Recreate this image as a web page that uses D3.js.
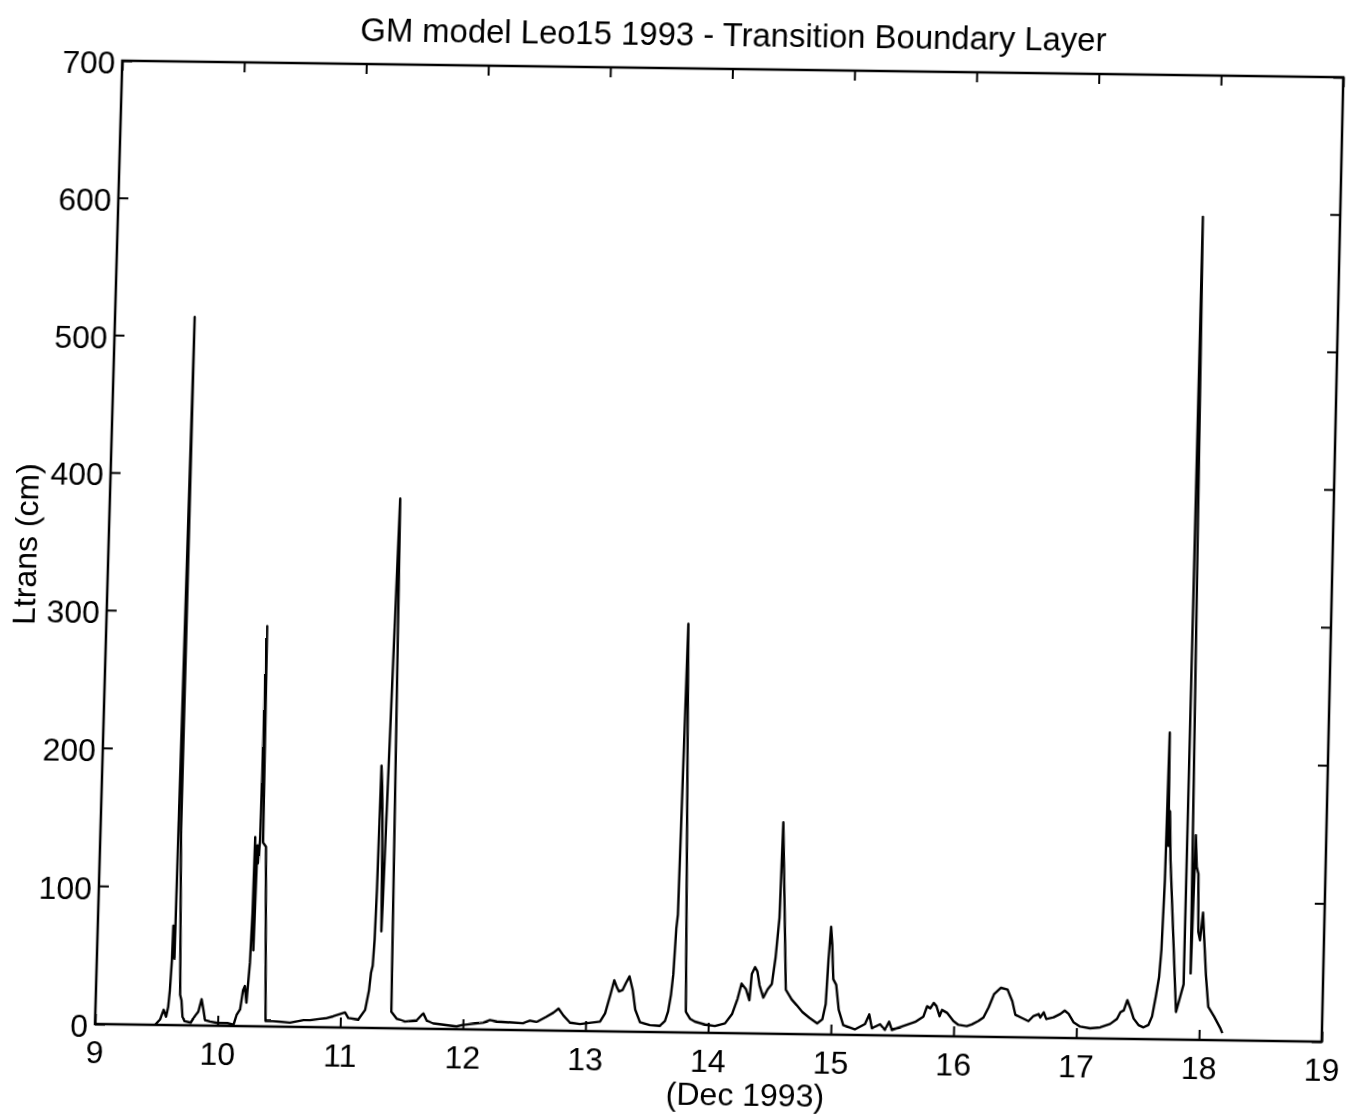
<!DOCTYPE html>
<html>
<head>
<meta charset="utf-8">
<script src="https://cdn.jsdelivr.net/npm/d3@7"></script>
<style>
  html, body { margin: 0; padding: 0; background: #fff; }
  #chart { position: absolute; left: 0; top: 0; display: block; transform-origin: 0 0; }
  text { font-family: "Liberation Sans", Arial, Helvetica, sans-serif; fill: #000; }
</style>
</head>
<body>
<svg id="chart" width="1359" height="1118"></svg>
<script>
// Time axis (day of December 1993)
const days = [
  9.49, 9.53, 9.557, 9.578, 9.593, 9.603, 9.613, 9.617, 9.628, 9.633,
  9.652, 9.658, 9.688, 9.70, 9.712, 9.73, 9.78, 9.815, 9.84, 9.864,
  9.882, 9.896, 9.937, 10.0, 10.08, 10.13, 10.153, 10.18, 10.20, 10.214,
  10.23, 10.25, 10.26, 10.265, 10.275, 10.285, 10.295, 10.305, 10.315, 10.33,
  10.355, 10.39, 10.45, 10.59, 10.70, 10.752, 10.88, 10.94, 11.037, 11.064,
  11.146, 11.20, 11.227, 11.24, 11.252, 11.262, 11.27, 11.28, 11.29, 11.30,
  11.315, 11.32, 11.374, 11.414, 11.458, 11.527, 11.622, 11.663, 11.676, 11.704,
  11.758, 11.949, 11.99, 12.166, 12.22, 12.275, 12.49, 12.546, 12.6, 12.68,
  12.736, 12.777, 12.818, 12.872, 12.954, 13.117, 13.157, 13.198, 13.225, 13.247,
  13.266, 13.294, 13.32, 13.348, 13.378, 13.402, 13.443, 13.524, 13.605, 13.646,
  13.67, 13.69, 13.705, 13.72, 13.73, 13.755, 13.815, 13.85, 13.89, 13.973,
  14.054, 14.136, 14.193, 14.234, 14.263, 14.3, 14.33, 14.345, 14.37, 14.39,
  14.41, 14.443, 14.476, 14.51, 14.535, 14.559, 14.571, 14.625, 14.675, 14.716,
  14.765, 14.822, 14.887, 14.929, 14.953, 14.967, 14.982, 14.995, 15.01, 15.035,
  15.06, 15.1, 15.195, 15.277, 15.31, 15.334, 15.4, 15.44, 15.473, 15.497,
  15.562, 15.685, 15.752, 15.78, 15.807, 15.834, 15.856, 15.883, 15.902, 15.943,
  15.997, 16.038, 16.106, 16.147, 16.201, 16.241, 16.282, 16.323, 16.378, 16.432,
  16.473, 16.5, 16.555, 16.608, 16.649, 16.69, 16.704, 16.731, 16.753, 16.812,
  16.867, 16.902, 16.934, 16.975, 17.03, 17.111, 17.193, 17.274, 17.329, 17.356,
  17.383, 17.41, 17.437, 17.464, 17.505, 17.546, 17.586, 17.614, 17.641, 17.664,
  17.678, 17.693, 17.705, 17.715, 17.722, 17.735, 17.808, 17.865, 17.878, 17.92,
  17.937, 17.95, 17.965, 17.975, 17.99, 18.01, 18.045, 18.07, 18.12, 18.17,
  18.19
];

// Transition boundary layer thickness, cm
const ltrans = [
  0, 4, 11, 6, 13, 25, 47, 72, 60, 48,
  514, 141, 22, 18, 6, 3, 2, 7, 10, 19,
  11, 4, 3, 2, 2, 1, 8, 12, 26, 29,
  17, 46, 82, 137, 55, 131, 118, 135, 290, 133,
  130, 4, 4, 3, 5, 5, 6.5, 8, 11, 7,
  6, 13, 27, 40, 45, 64, 100, 190, 175, 150,
  70, 90, 384, 12, 7, 5, 6, 10, 11, 6,
  4, 2, 3, 5, 7, 6, 5, 7, 6, 10,
  13, 16, 11, 6, 5, 7, 13, 27, 37, 32,
  29, 30, 35, 40, 30, 16, 7, 5, 4.5, 8,
  15, 27, 42, 75, 85, 296, 15, 10, 8, 6,
  5, 7, 14, 25, 36, 32, 24, 43, 48, 45,
  35, 26, 32, 36, 55, 84, 153, 32, 25, 21,
  16, 12, 8, 11, 22, 54, 78, 65, 40, 36,
  18, 7, 4, 8, 15, 5, 8, 4, 10, 4,
  6, 10, 14, 21.5, 20, 24, 21.7, 14.4, 19, 17,
  11, 8.4, 7.5, 8.8, 11.4, 14, 21.4, 31, 35.6, 34.4,
  26, 16.3, 14, 11.8, 15.6, 17, 14.6, 18.3, 13.5, 14.8,
  17.3, 19.8, 17.5, 11.5, 8.4, 7.3, 8, 10.6, 14.3, 19.2,
  20.6, 28, 22, 14.8, 10.1, 8.5, 10.3, 16.4, 31, 45,
  65, 115, 222, 140, 165, 130, 20, 40, 597, 48,
  148, 125, 120, 78, 72, 92, 47, 24, 17, 9,
  5
];

const xTicks = [9, 10, 11, 12, 13, 14, 15, 16, 17, 18, 19];
const yTicks = [0, 100, 200, 300, 400, 500, 600, 700];

const titleText = "GM model Leo15 1993 - Transition Boundary Layer";
const xLabelText = "(Dec 1993)";
const yLabelText = "Ltrans (cm)";

const W = 1359, H = 1118;
const box = { left: 95, right: 1322, top: 60, bottom: 1024 };
const fontSize = 32;

const x = d3.scaleLinear().domain([9, 19]).range([box.left, box.right]);
const y = d3.scaleLinear().domain([0, 700]).range([box.bottom, box.top]);

const svg = d3.select("#chart");
svg.append("rect").attr("width", W).attr("height", H).attr("fill", "#fff");

// Series line
const series = days.map((d, i) => [d, ltrans[i]]);
svg.append("path")
  .datum(series)
  .attr("fill", "none")
  .attr("stroke", "#000")
  .attr("stroke-width", 2.4)
  .attr("stroke-linejoin", "round")
  .attr("d", d3.line().x(d => x(d[0])).y(d => y(d[1])));

// Axes with inward-pointing ticks on all four sides
function styleAxis(g) {
  g.select(".domain").remove();
  g.selectAll(".tick line").attr("stroke", "#000").attr("stroke-width", 2);
  g.selectAll(".tick text")
    .attr("font-size", fontSize)
    .attr("font-family", "'Liberation Sans', Arial, Helvetica, sans-serif")
    .attr("fill", "#000");
}

svg.append("g")
  .attr("transform", `translate(0,${box.bottom})`)
  .call(d3.axisBottom(x).tickValues(xTicks).tickFormat(d3.format("d"))
    .tickSize(-10).tickPadding(16))
  .call(styleAxis);

svg.append("g")
  .attr("transform", `translate(0,${box.top})`)
  .call(d3.axisTop(x).tickValues(xTicks).tickFormat("").tickSize(-10))
  .call(styleAxis);

const gLeft = svg.append("g")
  .attr("transform", `translate(${box.left},0)`)
  .call(d3.axisLeft(y).tickValues(yTicks).tickFormat(d3.format("d"))
    .tickSize(-10).tickPadding(7))
  .call(styleAxis);
gLeft.selectAll(".tick text").attr("dy", "0.4em");

svg.append("g")
  .attr("transform", `translate(${box.right},0)`)
  .call(d3.axisRight(y).tickValues(yTicks).tickFormat("").tickSize(-10))
  .call(styleAxis);

// Plot frame
svg.append("rect")
  .attr("x", box.left).attr("y", box.top)
  .attr("width", box.right - box.left).attr("height", box.bottom - box.top)
  .attr("fill", "none").attr("stroke", "#000").attr("stroke-width", 2.5);

// Title and axis labels
svg.append("text")
  .attr("x", (box.left + box.right) / 2).attr("y", 37)
  .attr("text-anchor", "middle").attr("font-size", 33)
  .text(titleText);

svg.append("text")
  .attr("x", 747).attr("y", 1096)
  .attr("text-anchor", "middle").attr("font-size", fontSize)
  .text(xLabelText);

svg.append("text")
  .attr("transform", "translate(23,546) rotate(-90)")
  .attr("text-anchor", "middle").attr("font-size", fontSize)
  .text(yLabelText);

// The printed sheet sits slightly askew: map the frame rectangle onto its
// photographed quadrilateral with a projective transform.
function frameProjection(rect, quad) {
  const [[x0, y0], [x1, y1], [x2, y2], [x3, y3]] = quad; // TL, TR, BR, BL
  const dx1 = x1 - x2, dx2 = x3 - x2, dx3 = x0 - x1 + x2 - x3;
  const dy1 = y1 - y2, dy2 = y3 - y2, dy3 = y0 - y1 + y2 - y3;
  const den = dx1 * dy2 - dx2 * dy1;
  const g = (dx3 * dy2 - dx2 * dy3) / den;
  const h = (dx1 * dy3 - dx3 * dy1) / den;
  const Q = [
    [x1 - x0 + g * x1, x3 - x0 + h * x3, x0],
    [y1 - y0 + g * y1, y3 - y0 + h * y3, y0],
    [g, h, 1]
  ];
  const w = rect.right - rect.left, hh = rect.bottom - rect.top;
  const S = [
    [1 / w, 0, -rect.left / w],
    [0, 1 / hh, -rect.top / hh],
    [0, 0, 1]
  ];
  const M = [[0, 0, 0], [0, 0, 0], [0, 0, 0]];
  for (let i = 0; i < 3; i++)
    for (let j = 0; j < 3; j++)
      for (let k = 0; k < 3; k++) M[i][j] += Q[i][k] * S[k][j];
  return `matrix3d(${M[0][0]},${M[1][0]},0,${M[2][0]},${M[0][1]},${M[1][1]},0,${M[2][1]},0,0,1,0,${M[0][2]},${M[1][2]},0,${M[2][2]})`;
}

const sheetQuad = [[122.3, 60.7], [1343.3, 77.3], [1321.7, 1041.7], [95, 1024]];
d3.select("#chart").style("transform", frameProjection(box, sheetQuad));
</script>
</body>
</html>
